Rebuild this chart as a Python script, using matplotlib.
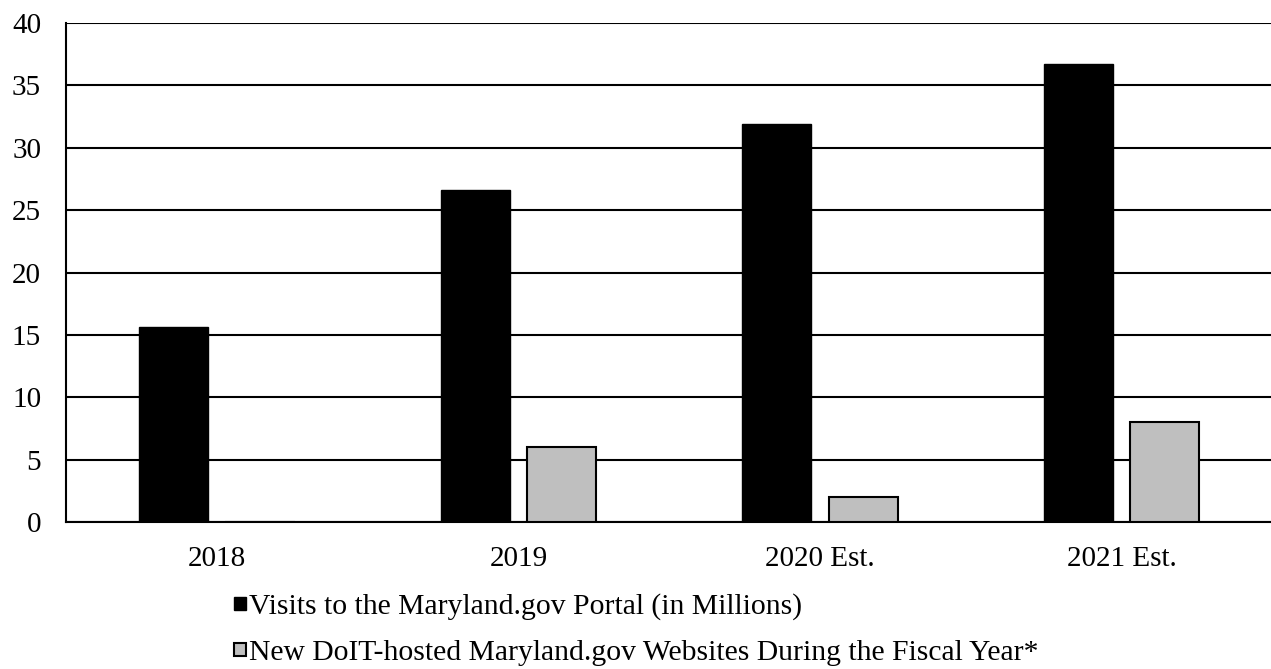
import numpy as np
import matplotlib.pyplot as plt

plt.rcParams['font.family'] = ['Liberation Serif', 'DejaVu Serif']

years = ["2018", "2019", "2020 Est.", "2021 Est."]
visits = [15.6, 26.6, 31.9, 36.7]
new_sites = [0, 6, 2, 8]
labels = ["Visits to the Maryland.gov Portal (in Millions)",
          "New DoIT-hosted Maryland.gov Websites During the Fiscal Year*"]

fig = plt.figure(figsize=(12.71, 6.69), dpi=100)
ax = fig.add_axes([0.052, 0.2197, 0.949, 0.7459])

x = np.arange(len(years))
w = 0.229
ax.bar(x - 0.143, visits, w, color="black", edgecolor="black", lw=1, label=labels[0], zorder=3)
ax.bar(x + 0.143, new_sites, w, color="#bfbfbf", edgecolor="black", lw=1.5, label=labels[1], zorder=3)

ax.set_xlim(-0.5, 3.5)
ax.set_ylim(0, 40)
ax.set_yticks(range(0, 41, 5))
ax.set_xticks(x)
ax.set_xticklabels(years)
ax.yaxis.grid(True, color="black", lw=1.5, zorder=0)
ax.set_axisbelow(True)
ax.tick_params(length=0, labelsize=21)
ax.tick_params(axis="y", pad=18)
ax.tick_params(axis="x", pad=17)
for s in ["top", "right"]:
    ax.spines[s].set_visible(False)
ax.spines["left"].set_linewidth(1.5)
ax.spines["bottom"].set_linewidth(1.5)

fig.legend(loc="upper left", bbox_to_anchor=(0.184, 0.113), frameon=False,
           fontsize=21.3, handlelength=0.4, handleheight=0.3, handletextpad=0.1,
           labelspacing=0.66, borderpad=0, borderaxespad=0)

fig.savefig("out.png", dpi=100)
